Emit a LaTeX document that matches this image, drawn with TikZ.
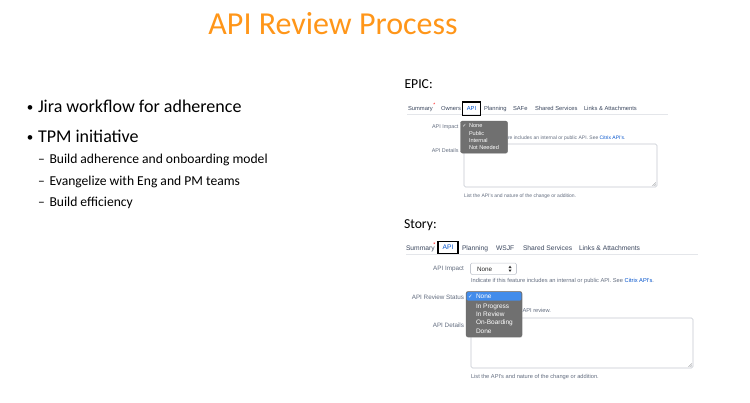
\documentclass[tikz,border=0pt]{standalone}
\usepackage{fontspec}
\setmainfont{Carlito}
\newfontfamily\uifont{Liberation Sans}
\newfontfamily\symfont{DejaVu Sans}
\usetikzlibrary{shadows}

\definecolor{titleorange}{RGB}{255,150,25}
\definecolor{tabgray}{RGB}{60,72,95}
\definecolor{lblgray}{RGB}{100,110,128}
\definecolor{linkblue}{RGB}{0,82,204}
\definecolor{boxgray}{RGB}{196,200,208}
\definecolor{menugray}{RGB}{112,112,112}
\definecolor{menublue}{RGB}{66,140,235}
\definecolor{rulegray}{RGB}{228,230,234}

\begin{document}
\begin{tikzpicture}[x=1pt,y=-1pt,
    every node/.style={inner sep=0pt,outer sep=0pt},
    head/.style={anchor=base,text=titleorange,font=\fontsize{32}{36}\selectfont},
    bullet/.style={anchor=base west,font=\fontsize{18}{22}\selectfont},
    subbullet/.style={anchor=base west,font=\fontsize{13.6}{16}\selectfont},
    panel/.style={anchor=base west,font=\fontsize{13.7}{16}\selectfont},
    tabE/.style={anchor=base west,text=tabgray,font=\uifont\fontsize{5.8}{7}\selectfont},
    tabS/.style={anchor=base west,text=tabgray,font=\uifont\fontsize{6.7}{8}\selectfont},
    tabsel/.style={draw=black,line width=1.6pt,text=linkblue},
    lblE/.style={anchor=base east,text=lblgray,font=\uifont\fontsize{5.4}{7}\selectfont},
    lblS/.style={anchor=base east,text=lblgray,font=\uifont\fontsize{6.3}{8}\selectfont},
    hintE/.style={anchor=base west,text=lblgray,font=\uifont\fontsize{5}{6}\selectfont},
    hintS/.style={anchor=base west,text=lblgray,font=\uifont\fontsize{5.7}{7}\selectfont},
    area/.style={draw=boxgray,fill=white,rounded corners=1.5pt,line width=0.6pt},
    menu/.style={fill=menugray,draw=black!60,line width=0.3pt,rounded corners=2pt,drop shadow={opacity=0.3,shadow xshift=0.4pt,shadow yshift=-0.8pt}},
    itemE/.style={anchor=base west,text=white,font=\uifont\fontsize{5.6}{7}\selectfont},
    itemS/.style={anchor=base west,text=white,font=\uifont\fontsize{6.5}{8}\selectfont},
  ]

\useasboundingbox[fill=white] (0,0) rectangle (750,402);

\node[head] (title) at (333,34) {API Review Process};

\node[bullet,font=\fontsize{13}{16}\selectfont] (dot1) at (27,111) {•};
\node[bullet] (jira) at (38,112) {Jira workflow for adherence};
\node[bullet,font=\fontsize{13}{16}\selectfont] (dot2) at (27,141) {•};
\node[bullet] (tpm) at (38,142) {TPM initiative};

\node[subbullet] (dash1) at (38,163) {–};
\node[subbullet] (build) at (49.5,163) {Build adherence and onboarding model};
\node[subbullet] (dash2) at (38,185) {–};
\node[subbullet] (evang) at (49.5,185) {Evangelize with Eng and PM teams};
\node[subbullet] (dash3) at (38,206) {–};
\node[subbullet] (effic) at (49.5,206) {Build efficiency};

\node[panel] (epic) at (404.5,88.5) {EPIC:};

\draw[rulegray,line width=0.6pt] (407,114.5) -- (668,114.5);
\node[tabE] (sumE) at (408,110.5) {Summary};
\node[anchor=base west,text=red,font=\uifont\fontsize{5}{6}\selectfont] (starE) at (433.3,106.5) {*};
\node[tabE] (ownE) at (441,110.5) {Owners};
\node[tabsel,font=\uifont\fontsize{5.8}{7}\selectfont,minimum width=18pt,minimum height=13.5pt] (apiE) at (471.5,108.8) {API};
\node[tabE] (planE) at (484,110.5) {Planning};
\node[tabE] (safeE) at (513,110.5) {SAFe};
\node[tabE] (sharedE) at (535,110.5) {Shared Services};
\node[tabE] (linksE) at (584,110.5) {Links \& Attachments};

\node[lblE] (impE) at (458.5,128) {API Impact};
\node[hintE] (impnoteE) at (508,139) {re includes an internal or public API. See \textcolor{linkblue}{Citrix API's}.};
\node[lblE] (detE) at (458.5,152) {API Details};
\node[area,minimum width=193pt,minimum height=43pt] (areaE) at (560.5,165.5) {};
\draw[boxgray!70!black,line width=0.4pt] (areaE.south east) ++(-4.5,-1.2) -- ++(3.3,-3.3)
  (areaE.south east) ++(-2.5,-1.2) -- ++(1.3,-1.3);
\node[hintE] (listE) at (464,197) {List the API's and nature of the change or addition.};

\node[menu,minimum width=47pt,minimum height=32pt] (menuE) at (484,137) {};
\node[anchor=base west,text=white,font=\symfont\fontsize{5}{6}\selectfont] (chkE) at (462.3,127.7) {✓};
\node[itemE] (noneE) at (469,127.7) {None};
\node[itemE] (pubE) at (469,135) {Public};
\node[itemE] (intE) at (469,142.2) {Internal};
\node[itemE] (nneedE) at (469,149.4) {Not Needed};

\node[panel] (story) at (404,228) {Story:};

\draw[rulegray,line width=0.6pt] (406,254.5) -- (698,254.5);
\node[tabS] (sumS) at (406,250.3) {Summary};
\node[anchor=base west,text=red,font=\uifont\fontsize{5.5}{6}\selectfont] (starS) at (433.3,246) {*};
\node[tabsel,font=\uifont\fontsize{6.7}{8}\selectfont,minimum width=20pt,minimum height=12pt] (apiS) at (448,247.6) {API};
\node[tabS] (planS) at (462,250.3) {Planning};
\node[tabS] (wsjfS) at (496,250.3) {WSJF};
\node[tabS] (sharedS) at (523,250.3) {Shared Services};
\node[tabS] (linksS) at (579,250.3) {Links \& Attachments};

\node[lblS] (impS) at (464,270.5) {API Impact};
\node[area,minimum width=46pt,minimum height=11.5pt] (selS) at (493.5,268.8) {};
\node[anchor=base west,text=black!85,font=\uifont\fontsize{6.3}{8}\selectfont] (selnoneS) at (477,271) {None};
\fill[black!80] (selS.east) ++(-8,-0.8) -- ++(3,0) -- ++(-1.5,-2.4) -- cycle
  (selS.east) ++(-8,0.8) -- ++(3,0) -- ++(-1.5,2.4) -- cycle;
\node[hintS] (impnoteS) at (471,282.5) {Indicate if this feature includes an internal or public API. See \textcolor{linkblue}{Citrix API's}.};

\node[lblS] (statS) at (464,299.2) {API Review Status};
\node[hintS] (statnoteS) at (522.5,312) {API review.};
\node[lblS] (detS) at (464,327.5) {API Details};
\node[area,minimum width=222pt,minimum height=50pt] (areaS) at (582,343) {};
\draw[boxgray!70!black,line width=0.4pt] (areaS.south east) ++(-4.5,-1.2) -- ++(3.3,-3.3)
  (areaS.south east) ++(-2.5,-1.2) -- ++(1.3,-1.3);
\node[hintS] (listS) at (471,378) {List the API's and nature of the change or addition.};

\node[menu,minimum width=56pt,minimum height=45.5pt] (menuS) at (494,314.2) {};
\fill[menublue,rounded corners=1.5pt] (466.6,292) rectangle (521.4,300.6);
\node[anchor=base west,text=white,font=\symfont\fontsize{5.5}{6}\selectfont] (chkS) at (468,298.5) {✓};
\node[itemS] (noneS) at (476,298.5) {None};
\node[itemS] (progS) at (476,308) {In Progress};
\node[itemS] (revS) at (476,316.2) {In Review};
\node[itemS] (onbS) at (476,324.5) {On-Boarding};
\node[itemS] (doneS) at (476,333) {Done};

\end{tikzpicture}
\end{document}
